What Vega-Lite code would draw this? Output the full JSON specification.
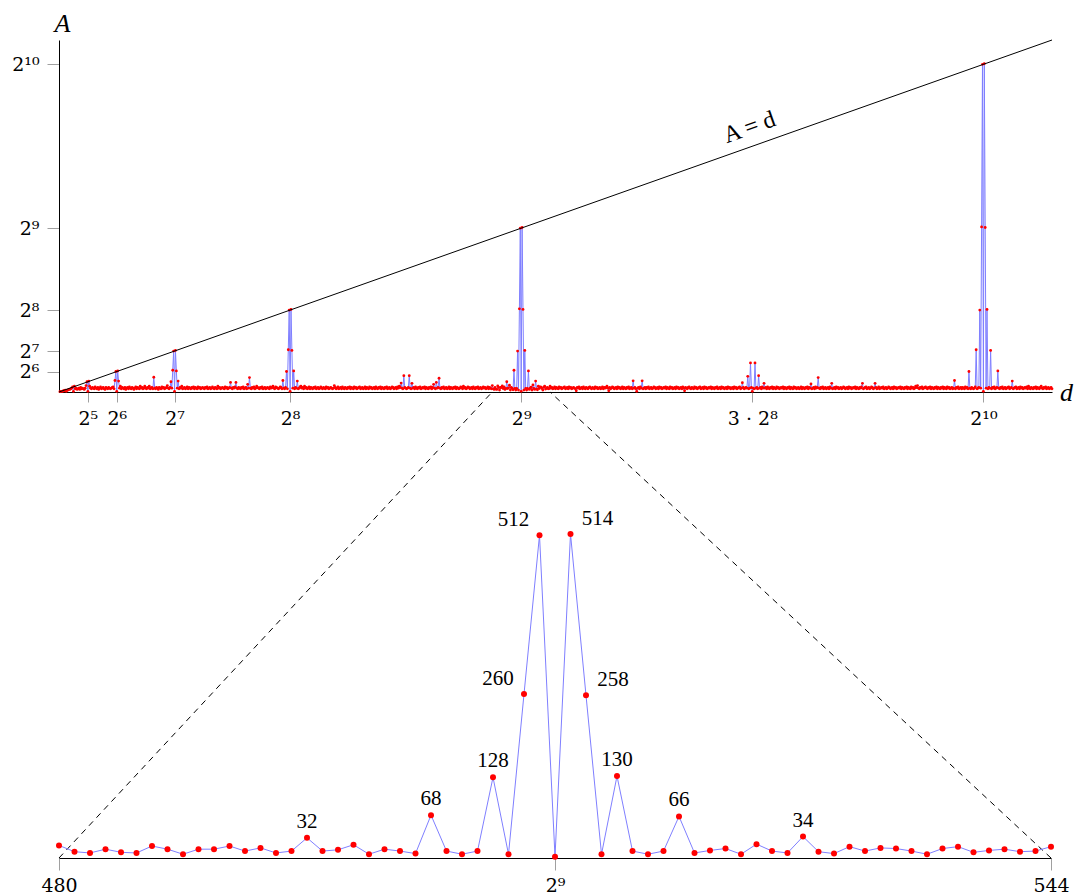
{
"$schema": "https://vega.github.io/schema/vega-lite/v6.json",
"background": "white",
"padding": {"left": 11, "top": 10, "right": 2, "bottom": 2},
"bounds": "flush",
"spacing": 113,
"config": {
  "view": {"stroke": null},
  "font": "Liberation Serif",
  "axis": {"grid": false, "domainColor": "black", "domainWidth": 1, "tickColor": "#a0a0a0", "tickWidth": 1, "labelFont": "DejaVu Serif", "labelColor": "black", "labelFontSize": 19, "titleFont": "DejaVu Serif", "titleFontWeight": "normal", "titleColor": "black"}
},
"datasets": {"series": [
{"d":1,"A":1},{"d":2,"A":2},{"d":3,"A":2},{"d":4,"A":2},{"d":5,"A":4},{"d":6,"A":4},{"d":7,"A":6},{"d":8,"A":2},{"d":9,"A":6},{"d":10,"A":6},
{"d":11,"A":8},{"d":12,"A":8},{"d":13,"A":10},{"d":14,"A":12},{"d":15,"A":16},{"d":16,"A":2},{"d":17,"A":18},{"d":18,"A":10},{"d":19,"A":12},{"d":20,"A":8},
{"d":21,"A":10},{"d":22,"A":12},{"d":23,"A":8},{"d":24,"A":14},{"d":25,"A":10},{"d":26,"A":12},{"d":27,"A":10},{"d":28,"A":8},{"d":29,"A":12},{"d":30,"A":20},
{"d":31,"A":32},{"d":32,"A":2},{"d":33,"A":34},{"d":34,"A":18},{"d":35,"A":12},{"d":36,"A":10},{"d":37,"A":14},{"d":38,"A":12},{"d":39,"A":10},{"d":40,"A":16},
{"d":41,"A":12},{"d":42,"A":10},{"d":43,"A":14},{"d":44,"A":8},{"d":45,"A":12},{"d":46,"A":16},{"d":47,"A":10},{"d":48,"A":12},{"d":49,"A":14},{"d":50,"A":10},
{"d":51,"A":8},{"d":52,"A":14},{"d":53,"A":12},{"d":54,"A":10},{"d":55,"A":14},{"d":56,"A":12},{"d":57,"A":10},{"d":58,"A":12},{"d":59,"A":14},{"d":60,"A":16},
{"d":61,"A":10},{"d":62,"A":36},{"d":63,"A":64},{"d":64,"A":2},{"d":65,"A":66},{"d":66,"A":34},{"d":67,"A":12},{"d":68,"A":18},{"d":69,"A":10},{"d":70,"A":14},
{"d":71,"A":12},{"d":72,"A":10},{"d":73,"A":14},{"d":74,"A":8},{"d":75,"A":12},{"d":76,"A":14},{"d":77,"A":10},{"d":78,"A":16},{"d":79,"A":12},{"d":80,"A":10},
{"d":81,"A":14},{"d":82,"A":12},{"d":83,"A":8},{"d":84,"A":12},{"d":85,"A":16},{"d":86,"A":10},{"d":87,"A":14},{"d":88,"A":12},{"d":89,"A":10},{"d":90,"A":18},
{"d":91,"A":12},{"d":92,"A":14},{"d":93,"A":10},{"d":94,"A":12},{"d":95,"A":18},{"d":96,"A":12},{"d":97,"A":10},{"d":98,"A":14},{"d":99,"A":12},{"d":100,"A":18},
{"d":101,"A":10},{"d":102,"A":12},{"d":103,"A":14},{"d":104,"A":10},{"d":105,"A":46},{"d":106,"A":12},{"d":107,"A":10},{"d":108,"A":14},{"d":109,"A":12},{"d":110,"A":8},
{"d":111,"A":14},{"d":112,"A":12},{"d":113,"A":10},{"d":114,"A":16},{"d":115,"A":12},{"d":116,"A":14},{"d":117,"A":10},{"d":118,"A":12},{"d":119,"A":14},{"d":120,"A":20},
{"d":121,"A":12},{"d":122,"A":10},{"d":123,"A":14},{"d":124,"A":32},{"d":125,"A":12},{"d":126,"A":68},{"d":127,"A":128},{"d":128,"A":2},{"d":129,"A":130},{"d":130,"A":66},
{"d":131,"A":12},{"d":132,"A":34},{"d":133,"A":10},{"d":134,"A":14},{"d":135,"A":12},{"d":136,"A":18},{"d":137,"A":10},{"d":138,"A":12},{"d":139,"A":14},{"d":140,"A":10},
{"d":141,"A":12},{"d":142,"A":16},{"d":143,"A":10},{"d":144,"A":14},{"d":145,"A":12},{"d":146,"A":10},{"d":147,"A":14},{"d":148,"A":12},{"d":149,"A":16},{"d":150,"A":10},
{"d":151,"A":14},{"d":152,"A":12},{"d":153,"A":10},{"d":154,"A":16},{"d":155,"A":12},{"d":156,"A":14},{"d":157,"A":10},{"d":158,"A":12},{"d":159,"A":14},{"d":160,"A":12},
{"d":161,"A":10},{"d":162,"A":14},{"d":163,"A":12},{"d":164,"A":16},{"d":165,"A":10},{"d":166,"A":12},{"d":167,"A":14},{"d":168,"A":10},{"d":169,"A":12},{"d":170,"A":16},
{"d":171,"A":12},{"d":172,"A":10},{"d":173,"A":14},{"d":174,"A":12},{"d":175,"A":10},{"d":176,"A":18},{"d":177,"A":12},{"d":178,"A":14},{"d":179,"A":10},{"d":180,"A":12},
{"d":181,"A":14},{"d":182,"A":12},{"d":183,"A":10},{"d":184,"A":16},{"d":185,"A":12},{"d":186,"A":14},{"d":187,"A":10},{"d":188,"A":12},{"d":189,"A":14},{"d":190,"A":30},
{"d":191,"A":12},{"d":192,"A":10},{"d":193,"A":14},{"d":194,"A":12},{"d":195,"A":16},{"d":196,"A":30},{"d":197,"A":12},{"d":198,"A":10},{"d":199,"A":14},{"d":200,"A":12},
{"d":201,"A":10},{"d":202,"A":14},{"d":203,"A":12},{"d":204,"A":16},{"d":205,"A":10},{"d":206,"A":12},{"d":207,"A":14},{"d":208,"A":10},{"d":209,"A":24},{"d":210,"A":12},
{"d":211,"A":45},{"d":212,"A":12},{"d":213,"A":10},{"d":214,"A":14},{"d":215,"A":12},{"d":216,"A":16},{"d":217,"A":10},{"d":218,"A":12},{"d":219,"A":18},{"d":220,"A":14},
{"d":221,"A":12},{"d":222,"A":10},{"d":223,"A":14},{"d":224,"A":12},{"d":225,"A":16},{"d":226,"A":10},{"d":227,"A":12},{"d":228,"A":14},{"d":229,"A":10},{"d":230,"A":12},
{"d":231,"A":14},{"d":232,"A":12},{"d":233,"A":10},{"d":234,"A":16},{"d":235,"A":12},{"d":236,"A":14},{"d":237,"A":18},{"d":238,"A":12},{"d":239,"A":10},{"d":240,"A":16},
{"d":241,"A":14},{"d":242,"A":12},{"d":243,"A":10},{"d":244,"A":12},{"d":245,"A":16},{"d":246,"A":14},{"d":247,"A":10},{"d":248,"A":36},{"d":249,"A":12},{"d":250,"A":10},
{"d":251,"A":14},{"d":252,"A":64},{"d":253,"A":10},{"d":254,"A":132},{"d":255,"A":256},{"d":256,"A":2},{"d":257,"A":258},{"d":258,"A":130},{"d":259,"A":12},{"d":260,"A":66},
{"d":261,"A":10},{"d":262,"A":14},{"d":263,"A":12},{"d":264,"A":34},{"d":265,"A":10},{"d":266,"A":12},{"d":267,"A":16},{"d":268,"A":18},{"d":269,"A":12},{"d":270,"A":14},
{"d":271,"A":10},{"d":272,"A":18},{"d":273,"A":12},{"d":274,"A":14},{"d":275,"A":10},{"d":276,"A":12},{"d":277,"A":16},{"d":278,"A":10},{"d":279,"A":14},{"d":280,"A":12},
{"d":281,"A":10},{"d":282,"A":14},{"d":283,"A":12},{"d":284,"A":16},{"d":285,"A":10},{"d":286,"A":12},{"d":287,"A":14},{"d":288,"A":10},{"d":289,"A":12},{"d":290,"A":16},
{"d":291,"A":12},{"d":292,"A":10},{"d":293,"A":14},{"d":294,"A":12},{"d":295,"A":10},{"d":296,"A":16},{"d":297,"A":12},{"d":298,"A":14},{"d":299,"A":10},{"d":300,"A":12},
{"d":301,"A":14},{"d":302,"A":12},{"d":303,"A":10},{"d":304,"A":12},{"d":305,"A":20},{"d":306,"A":14},{"d":307,"A":10},{"d":308,"A":12},{"d":309,"A":16},{"d":310,"A":10},
{"d":311,"A":12},{"d":312,"A":14},{"d":313,"A":10},{"d":314,"A":16},{"d":315,"A":12},{"d":316,"A":10},{"d":317,"A":14},{"d":318,"A":12},{"d":319,"A":10},{"d":320,"A":14},
{"d":321,"A":12},{"d":322,"A":16},{"d":323,"A":10},{"d":324,"A":14},{"d":325,"A":12},{"d":326,"A":10},{"d":327,"A":16},{"d":328,"A":12},{"d":329,"A":14},{"d":330,"A":10},
{"d":331,"A":12},{"d":332,"A":14},{"d":333,"A":16},{"d":334,"A":10},{"d":335,"A":12},{"d":336,"A":14},{"d":337,"A":10},{"d":338,"A":12},{"d":339,"A":16},{"d":340,"A":10},
{"d":341,"A":14},{"d":342,"A":12},{"d":343,"A":10},{"d":344,"A":16},{"d":345,"A":12},{"d":346,"A":14},{"d":347,"A":10},{"d":348,"A":12},{"d":349,"A":14},{"d":350,"A":10},
{"d":351,"A":16},{"d":352,"A":12},{"d":353,"A":10},{"d":354,"A":14},{"d":355,"A":12},{"d":356,"A":16},{"d":357,"A":10},{"d":358,"A":14},{"d":359,"A":12},{"d":360,"A":10},
{"d":361,"A":14},{"d":362,"A":12},{"d":363,"A":16},{"d":364,"A":10},{"d":365,"A":12},{"d":366,"A":14},{"d":367,"A":10},{"d":368,"A":12},{"d":369,"A":16},{"d":370,"A":14},
{"d":371,"A":10},{"d":372,"A":12},{"d":373,"A":14},{"d":374,"A":10},{"d":375,"A":16},{"d":376,"A":12},{"d":377,"A":18},{"d":378,"A":14},{"d":379,"A":28},{"d":380,"A":12},
{"d":381,"A":10},{"d":382,"A":51},{"d":383,"A":14},{"d":384,"A":12},{"d":385,"A":10},{"d":386,"A":12},{"d":387,"A":14},{"d":388,"A":51},{"d":389,"A":12},{"d":390,"A":10},
{"d":391,"A":27},{"d":392,"A":12},{"d":393,"A":14},{"d":394,"A":10},{"d":395,"A":16},{"d":396,"A":12},{"d":397,"A":10},{"d":398,"A":14},{"d":399,"A":12},{"d":400,"A":16},
{"d":401,"A":10},{"d":402,"A":12},{"d":403,"A":14},{"d":404,"A":12},{"d":405,"A":16},{"d":406,"A":10},{"d":407,"A":14},{"d":408,"A":12},{"d":409,"A":10},{"d":410,"A":14},
{"d":411,"A":12},{"d":412,"A":16},{"d":413,"A":10},{"d":414,"A":14},{"d":415,"A":24},{"d":416,"A":12},{"d":417,"A":10},{"d":418,"A":30},{"d":419,"A":12},{"d":420,"A":14},
{"d":421,"A":43},{"d":422,"A":12},{"d":423,"A":10},{"d":424,"A":14},{"d":425,"A":12},{"d":426,"A":16},{"d":427,"A":10},{"d":428,"A":12},{"d":429,"A":14},{"d":430,"A":10},
{"d":431,"A":12},{"d":432,"A":16},{"d":433,"A":10},{"d":434,"A":14},{"d":435,"A":12},{"d":436,"A":10},{"d":437,"A":14},{"d":438,"A":12},{"d":439,"A":16},{"d":440,"A":10},
{"d":441,"A":14},{"d":442,"A":12},{"d":443,"A":10},{"d":444,"A":12},{"d":445,"A":16},{"d":446,"A":14},{"d":447,"A":10},{"d":448,"A":18},{"d":449,"A":12},{"d":450,"A":14},
{"d":451,"A":10},{"d":452,"A":12},{"d":453,"A":16},{"d":454,"A":14},{"d":455,"A":10},{"d":456,"A":12},{"d":457,"A":14},{"d":458,"A":10},{"d":459,"A":16},{"d":460,"A":12},
{"d":461,"A":10},{"d":462,"A":14},{"d":463,"A":12},{"d":464,"A":16},{"d":465,"A":10},{"d":466,"A":12},{"d":467,"A":14},{"d":468,"A":10},{"d":469,"A":12},{"d":470,"A":16},
{"d":471,"A":12},{"d":472,"A":14},{"d":473,"A":10},{"d":474,"A":12},{"d":475,"A":16},{"d":476,"A":10},{"d":477,"A":14},{"d":478,"A":12},{"d":479,"A":10},{"d":480,"A":20},
{"d":481,"A":10},{"d":482,"A":8},{"d":483,"A":14},{"d":484,"A":9},{"d":485,"A":8},{"d":486,"A":19},{"d":487,"A":14},{"d":488,"A":6},{"d":489,"A":14},{"d":490,"A":14},
{"d":491,"A":19},{"d":492,"A":11},{"d":493,"A":16},{"d":494,"A":8},{"d":495,"A":11},{"d":496,"A":32},{"d":497,"A":11},{"d":498,"A":13},{"d":499,"A":21},{"d":500,"A":6},
{"d":501,"A":14},{"d":502,"A":11},{"d":503,"A":7},{"d":504,"A":68},{"d":505,"A":11},{"d":506,"A":6},{"d":507,"A":11},{"d":508,"A":128},{"d":509,"A":6},{"d":510,"A":260},
{"d":511,"A":512},{"d":512,"A":2},{"d":513,"A":514},{"d":514,"A":258},{"d":515,"A":6},{"d":516,"A":130},{"d":517,"A":11},{"d":518,"A":6},{"d":519,"A":11},{"d":520,"A":66},
{"d":521,"A":8},{"d":522,"A":12},{"d":523,"A":15},{"d":524,"A":6},{"d":525,"A":22},{"d":526,"A":11},{"d":527,"A":8},{"d":528,"A":34},{"d":529,"A":10},{"d":530,"A":7},
{"d":531,"A":18},{"d":532,"A":11},{"d":533,"A":16},{"d":534,"A":15},{"d":535,"A":11},{"d":536,"A":6},{"d":537,"A":15},{"d":538,"A":18},{"d":539,"A":9},{"d":540,"A":12},
{"d":541,"A":14},{"d":542,"A":10},{"d":543,"A":11},{"d":544,"A":18},{"d":545,"A":12},{"d":546,"A":14},{"d":547,"A":10},{"d":548,"A":12},{"d":549,"A":16},{"d":550,"A":10},
{"d":551,"A":14},{"d":552,"A":12},{"d":553,"A":10},{"d":554,"A":16},{"d":555,"A":12},{"d":556,"A":14},{"d":557,"A":10},{"d":558,"A":12},{"d":559,"A":14},{"d":560,"A":16},
{"d":561,"A":10},{"d":562,"A":12},{"d":563,"A":14},{"d":564,"A":10},{"d":565,"A":16},{"d":566,"A":12},{"d":567,"A":14},{"d":568,"A":10},{"d":569,"A":12},{"d":570,"A":14},
{"d":571,"A":12},{"d":572,"A":10},{"d":573,"A":4},{"d":574,"A":14},{"d":575,"A":12},{"d":576,"A":16},{"d":577,"A":10},{"d":578,"A":12},{"d":579,"A":14},{"d":580,"A":10},
{"d":581,"A":16},{"d":582,"A":12},{"d":583,"A":10},{"d":584,"A":14},{"d":585,"A":12},{"d":586,"A":10},{"d":587,"A":14},{"d":588,"A":16},{"d":589,"A":12},{"d":590,"A":10},
{"d":591,"A":14},{"d":592,"A":12},{"d":593,"A":10},{"d":594,"A":16},{"d":595,"A":12},{"d":596,"A":14},{"d":597,"A":10},{"d":598,"A":12},{"d":599,"A":14},{"d":600,"A":10},
{"d":601,"A":12},{"d":602,"A":16},{"d":603,"A":10},{"d":604,"A":14},{"d":605,"A":12},{"d":606,"A":14},{"d":607,"A":18},{"d":608,"A":12},{"d":609,"A":4},{"d":610,"A":14},
{"d":611,"A":10},{"d":612,"A":12},{"d":613,"A":16},{"d":614,"A":14},{"d":615,"A":10},{"d":616,"A":12},{"d":617,"A":14},{"d":618,"A":10},{"d":619,"A":16},{"d":620,"A":12},
{"d":621,"A":14},{"d":622,"A":10},{"d":623,"A":12},{"d":624,"A":16},{"d":625,"A":10},{"d":626,"A":14},{"d":627,"A":12},{"d":628,"A":10},{"d":629,"A":14},{"d":630,"A":12},
{"d":631,"A":16},{"d":632,"A":10},{"d":633,"A":12},{"d":634,"A":14},{"d":635,"A":10},{"d":636,"A":35},{"d":637,"A":12},{"d":638,"A":14},{"d":639,"A":10},{"d":640,"A":2},
{"d":641,"A":12},{"d":642,"A":14},{"d":643,"A":10},{"d":644,"A":16},{"d":645,"A":12},{"d":646,"A":35},{"d":647,"A":10},{"d":648,"A":12},{"d":649,"A":14},{"d":650,"A":10},
{"d":651,"A":14},{"d":652,"A":12},{"d":653,"A":16},{"d":654,"A":10},{"d":655,"A":12},{"d":656,"A":14},{"d":657,"A":10},{"d":658,"A":12},{"d":659,"A":16},{"d":660,"A":14},
{"d":661,"A":10},{"d":662,"A":12},{"d":663,"A":14},{"d":664,"A":10},{"d":665,"A":16},{"d":666,"A":12},{"d":667,"A":14},{"d":668,"A":10},{"d":669,"A":12},{"d":670,"A":14},
{"d":671,"A":12},{"d":672,"A":16},{"d":673,"A":10},{"d":674,"A":14},{"d":675,"A":12},{"d":676,"A":10},{"d":677,"A":16},{"d":678,"A":12},{"d":679,"A":14},{"d":680,"A":10},
{"d":681,"A":12},{"d":682,"A":14},{"d":683,"A":10},{"d":684,"A":16},{"d":685,"A":12},{"d":686,"A":14},{"d":687,"A":10},{"d":688,"A":12},{"d":689,"A":14},{"d":690,"A":10},
{"d":691,"A":16},{"d":692,"A":12},{"d":693,"A":4},{"d":694,"A":14},{"d":695,"A":12},{"d":696,"A":10},{"d":697,"A":14},{"d":698,"A":16},{"d":699,"A":12},{"d":700,"A":10},
{"d":701,"A":14},{"d":702,"A":12},{"d":703,"A":10},{"d":704,"A":16},{"d":705,"A":12},{"d":706,"A":14},{"d":707,"A":10},{"d":708,"A":12},{"d":709,"A":14},{"d":710,"A":16},
{"d":711,"A":10},{"d":712,"A":12},{"d":713,"A":14},{"d":714,"A":10},{"d":715,"A":16},{"d":716,"A":12},{"d":717,"A":14},{"d":718,"A":10},{"d":719,"A":12},{"d":720,"A":14},
{"d":721,"A":12},{"d":722,"A":16},{"d":723,"A":10},{"d":724,"A":14},{"d":725,"A":12},{"d":726,"A":10},{"d":727,"A":14},{"d":728,"A":12},{"d":729,"A":16},{"d":730,"A":10},
{"d":731,"A":12},{"d":732,"A":14},{"d":733,"A":10},{"d":734,"A":16},{"d":735,"A":12},{"d":736,"A":14},{"d":737,"A":10},{"d":738,"A":12},{"d":739,"A":14},{"d":740,"A":10},
{"d":741,"A":16},{"d":742,"A":12},{"d":743,"A":14},{"d":744,"A":10},{"d":745,"A":12},{"d":746,"A":14},{"d":747,"A":10},{"d":748,"A":16},{"d":749,"A":12},{"d":750,"A":14},
{"d":751,"A":10},{"d":752,"A":12},{"d":753,"A":14},{"d":754,"A":16},{"d":755,"A":10},{"d":756,"A":12},{"d":757,"A":29},{"d":758,"A":14},{"d":759,"A":10},{"d":760,"A":12},
{"d":761,"A":14},{"d":762,"A":12},{"d":763,"A":49},{"d":764,"A":10},{"d":765,"A":12},{"d":766,"A":91},{"d":767,"A":14},{"d":768,"A":2},{"d":769,"A":12},{"d":770,"A":10},
{"d":771,"A":91},{"d":772,"A":12},{"d":773,"A":14},{"d":774,"A":10},{"d":775,"A":51},{"d":776,"A":12},{"d":777,"A":14},{"d":778,"A":10},{"d":779,"A":16},{"d":780,"A":12},
{"d":781,"A":27},{"d":782,"A":12},{"d":783,"A":14},{"d":784,"A":10},{"d":785,"A":16},{"d":786,"A":12},{"d":787,"A":10},{"d":788,"A":14},{"d":789,"A":12},{"d":790,"A":16},
{"d":791,"A":10},{"d":792,"A":14},{"d":793,"A":12},{"d":794,"A":10},{"d":795,"A":16},{"d":796,"A":12},{"d":797,"A":14},{"d":798,"A":10},{"d":799,"A":12},{"d":800,"A":14},
{"d":801,"A":12},{"d":802,"A":16},{"d":803,"A":10},{"d":804,"A":14},{"d":805,"A":12},{"d":806,"A":10},{"d":807,"A":14},{"d":808,"A":12},{"d":809,"A":16},{"d":810,"A":10},
{"d":811,"A":14},{"d":812,"A":12},{"d":813,"A":10},{"d":814,"A":16},{"d":815,"A":12},{"d":816,"A":14},{"d":817,"A":10},{"d":818,"A":12},{"d":819,"A":14},{"d":820,"A":10},
{"d":821,"A":12},{"d":822,"A":16},{"d":823,"A":10},{"d":824,"A":14},{"d":825,"A":12},{"d":826,"A":10},{"d":827,"A":14},{"d":828,"A":12},{"d":829,"A":16},{"d":830,"A":10},
{"d":831,"A":14},{"d":832,"A":12},{"d":833,"A":25},{"d":834,"A":10},{"d":835,"A":12},{"d":836,"A":14},{"d":837,"A":10},{"d":838,"A":16},{"d":839,"A":12},{"d":840,"A":14},
{"d":841,"A":45},{"d":842,"A":12},{"d":843,"A":10},{"d":844,"A":14},{"d":845,"A":12},{"d":846,"A":16},{"d":847,"A":10},{"d":848,"A":12},{"d":849,"A":14},{"d":850,"A":10},
{"d":851,"A":12},{"d":852,"A":14},{"d":853,"A":10},{"d":854,"A":16},{"d":855,"A":12},{"d":856,"A":27},{"d":857,"A":10},{"d":858,"A":12},{"d":859,"A":14},{"d":860,"A":10},
{"d":861,"A":16},{"d":862,"A":12},{"d":863,"A":14},{"d":864,"A":10},{"d":865,"A":12},{"d":866,"A":14},{"d":867,"A":10},{"d":868,"A":12},{"d":869,"A":16},{"d":870,"A":14},
{"d":871,"A":10},{"d":872,"A":12},{"d":873,"A":14},{"d":874,"A":10},{"d":875,"A":16},{"d":876,"A":12},{"d":877,"A":14},{"d":878,"A":10},{"d":879,"A":12},{"d":880,"A":14},
{"d":881,"A":12},{"d":882,"A":16},{"d":883,"A":10},{"d":884,"A":14},{"d":885,"A":12},{"d":886,"A":10},{"d":887,"A":14},{"d":888,"A":12},{"d":889,"A":16},{"d":890,"A":27},
{"d":891,"A":10},{"d":892,"A":12},{"d":893,"A":14},{"d":894,"A":16},{"d":895,"A":10},{"d":896,"A":12},{"d":897,"A":14},{"d":898,"A":10},{"d":899,"A":12},{"d":900,"A":16},
{"d":901,"A":14},{"d":902,"A":10},{"d":903,"A":12},{"d":904,"A":27},{"d":905,"A":14},{"d":906,"A":10},{"d":907,"A":12},{"d":908,"A":16},{"d":909,"A":10},{"d":910,"A":12},
{"d":911,"A":14},{"d":912,"A":12},{"d":913,"A":16},{"d":914,"A":10},{"d":915,"A":12},{"d":916,"A":14},{"d":917,"A":10},{"d":918,"A":12},{"d":919,"A":16},{"d":920,"A":14},
{"d":921,"A":10},{"d":922,"A":12},{"d":923,"A":14},{"d":924,"A":10},{"d":925,"A":16},{"d":926,"A":12},{"d":927,"A":14},{"d":928,"A":10},{"d":929,"A":12},{"d":930,"A":14},
{"d":931,"A":12},{"d":932,"A":16},{"d":933,"A":10},{"d":934,"A":14},{"d":935,"A":12},{"d":936,"A":10},{"d":937,"A":14},{"d":938,"A":12},{"d":939,"A":16},{"d":940,"A":10},
{"d":941,"A":14},{"d":942,"A":12},{"d":943,"A":10},{"d":944,"A":16},{"d":945,"A":12},{"d":946,"A":14},{"d":947,"A":10},{"d":948,"A":12},{"d":949,"A":18},{"d":950,"A":14},
{"d":951,"A":20},{"d":952,"A":12},{"d":953,"A":10},{"d":954,"A":14},{"d":955,"A":12},{"d":956,"A":16},{"d":957,"A":10},{"d":958,"A":12},{"d":959,"A":14},{"d":960,"A":16},
{"d":961,"A":12},{"d":962,"A":10},{"d":963,"A":14},{"d":964,"A":12},{"d":965,"A":16},{"d":966,"A":10},{"d":967,"A":14},{"d":968,"A":12},{"d":969,"A":10},{"d":970,"A":14},
{"d":971,"A":12},{"d":972,"A":16},{"d":973,"A":10},{"d":974,"A":14},{"d":975,"A":12},{"d":976,"A":10},{"d":977,"A":14},{"d":978,"A":12},{"d":979,"A":16},{"d":980,"A":10},
{"d":981,"A":14},{"d":982,"A":12},{"d":983,"A":10},{"d":984,"A":16},{"d":985,"A":12},{"d":986,"A":14},{"d":987,"A":10},{"d":988,"A":12},{"d":989,"A":14},{"d":990,"A":10},
{"d":991,"A":12},{"d":992,"A":36},{"d":993,"A":10},{"d":994,"A":14},{"d":995,"A":12},{"d":996,"A":16},{"d":997,"A":10},{"d":998,"A":12},{"d":999,"A":14},{"d":1000,"A":10},
{"d":1001,"A":14},{"d":1002,"A":12},{"d":1003,"A":10},{"d":1004,"A":16},{"d":1005,"A":12},{"d":1006,"A":14},{"d":1007,"A":10},{"d":1008,"A":64},{"d":1009,"A":12},{"d":1010,"A":10},
{"d":1011,"A":14},{"d":1012,"A":12},{"d":1013,"A":10},{"d":1014,"A":12},{"d":1015,"A":16},{"d":1016,"A":132},{"d":1017,"A":10},{"d":1018,"A":12},{"d":1019,"A":14},{"d":1020,"A":256},
{"d":1021,"A":12},{"d":1022,"A":516},{"d":1023,"A":1024},{"d":1024,"A":2},{"d":1025,"A":1026},{"d":1026,"A":514},{"d":1027,"A":12},{"d":1028,"A":258},{"d":1029,"A":10},{"d":1030,"A":14},
{"d":1031,"A":12},{"d":1032,"A":130},{"d":1033,"A":10},{"d":1034,"A":14},{"d":1035,"A":12},{"d":1036,"A":16},{"d":1037,"A":10},{"d":1038,"A":12},{"d":1039,"A":14},{"d":1040,"A":66},
{"d":1041,"A":12},{"d":1042,"A":10},{"d":1043,"A":14},{"d":1044,"A":12},{"d":1045,"A":16},{"d":1046,"A":10},{"d":1047,"A":12},{"d":1048,"A":14},{"d":1049,"A":10},{"d":1050,"A":12},
{"d":1051,"A":14},{"d":1052,"A":16},{"d":1053,"A":10},{"d":1054,"A":12},{"d":1055,"A":14},{"d":1056,"A":34},{"d":1057,"A":10},{"d":1058,"A":12},{"d":1059,"A":14},{"d":1060,"A":16},
{"d":1061,"A":10},{"d":1062,"A":12},{"d":1063,"A":14},{"d":1064,"A":10},{"d":1065,"A":16},{"d":1066,"A":12},{"d":1067,"A":14},{"d":1068,"A":10},{"d":1069,"A":12},{"d":1070,"A":14},
{"d":1071,"A":12},{"d":1072,"A":16},{"d":1073,"A":10},{"d":1074,"A":18},{"d":1075,"A":12},{"d":1076,"A":10},{"d":1077,"A":14},{"d":1078,"A":12},{"d":1079,"A":10},{"d":1080,"A":14},
{"d":1081,"A":12},{"d":1082,"A":16},{"d":1083,"A":10},{"d":1084,"A":14},{"d":1085,"A":12},{"d":1086,"A":10},{"d":1087,"A":14},{"d":1088,"A":18},{"d":1089,"A":12},{"d":1090,"A":10},
{"d":1091,"A":14},{"d":1092,"A":12},{"d":1093,"A":16},{"d":1094,"A":10},{"d":1095,"A":12},{"d":1096,"A":14},{"d":1097,"A":10},{"d":1098,"A":12},{"d":1099,"A":14},{"d":1100,"A":10}
]},
"vconcat": [
  {
    "width": 993,
    "height": 352,
    "encoding": {
      "x": {"field": "d", "type": "quantitative", "scale": {"domain": [0, 1100], "nice": false, "zero": false},
        "axis": {"values": [32, 64, 128, 256, 512, 768, 1024],
          "labelExpr": "datum.value == 32 ? '2⁵' : datum.value == 64 ? '2⁶' : datum.value == 128 ? '2⁷' : datum.value == 256 ? '2⁸' : datum.value == 512 ? '2⁹' : datum.value == 768 ? '3 · 2⁸' : '2¹⁰'",
          "tickSize": 10, "labelPadding": 7, "labelFlush": false, "labelOverlap": false,
          "title": "d", "titleFont": "Liberation Serif", "titleFontStyle": "italic", "titleFontSize": 26, "titleAngle": 0, "titleX": 1007, "titleY": 0, "titleAlign": "center", "titleBaseline": "middle"}},
      "y": {"field": "A", "type": "quantitative", "scale": {"domain": [0, 1100], "nice": false},
        "axis": {"values": [64, 128, 256, 512, 1024],
          "labelExpr": "datum.value == 64 ? '2⁶' : datum.value == 128 ? '2⁷' : datum.value == 256 ? '2⁸' : datum.value == 512 ? '2⁹' : '2¹⁰'",
          "tickSize": 12, "labelPadding": 8, "labelFlush": false, "labelOverlap": false,
          "title": "A", "titleFont": "Liberation Serif", "titleFontStyle": "italic", "titleFontSize": 26, "titleAngle": 0, "titleX": 3, "titleY": -17, "titleAlign": "center", "titleBaseline": "middle"}}
    },
    "layer": [
      {"data": {"name": "series"}, "mark": {"type": "line", "stroke": "#7f7fff", "strokeWidth": 1}, "encoding": {}},
      {"data": {"name": "series"}, "mark": {"type": "circle", "color": "#ff0000", "size": 8, "opacity": 1}, "encoding": {}},
      {"data": {"values": [{"d": 0, "A": 0}, {"d": 1100, "A": 1100}]}, "mark": {"type": "line", "stroke": "black", "strokeWidth": 1}, "encoding": {}},
      {"data": {"values": [{"d": 765, "A": 826, "label": "A = d"}]}, "mark": {"type": "text", "angle": -19.5, "fontSize": 24, "font": "Liberation Serif", "color": "black"}, "encoding": {"text": {"field": "label"}}}
    ]
  },
  {
    "width": 992,
    "height": 353,
    "encoding": {
      "x": {"field": "d", "type": "quantitative", "scale": {"domain": [480, 544], "nice": false, "zero": false},
        "axis": {"values": [480, 512, 544], "labelExpr": "datum.value == 512 ? '2⁹' : datum.label", "tickSize": 12, "labelPadding": 6, "labelFlush": false, "title": null}},
      "y": {"field": "A", "type": "quantitative", "scale": {"domain": [0, 560], "nice": false}, "axis": null}
    },
    "layer": [
      {"data": {"values": [{"d": 480, "A": 0, "d2": 507.95, "A2": 739.3}, {"d": 544, "A": 0, "d2": 511.68, "A2": 739.3}]},
       "mark": {"type": "rule", "color": "black", "strokeWidth": 1, "strokeDash": [6, 5]},
       "encoding": {"x2": {"field": "d2"}, "y2": {"field": "A2"}}},
      {"data": {"name": "series"}, "transform": [{"filter": "datum.d >= 480 && datum.d <= 544"}], "mark": {"type": "line", "stroke": "#7f7fff", "strokeWidth": 1}, "encoding": {}},
      {"data": {"name": "series"}, "transform": [{"filter": "datum.d >= 480 && datum.d <= 544"}], "mark": {"type": "circle", "color": "#ff0000", "size": 36, "opacity": 1}, "encoding": {}},
      {"data": {"name": "series"}, "transform": [{"filter": {"field": "d", "oneOf": [496, 504, 508, 516, 520, 528]}}], "mark": {"type": "text", "fontSize": 21, "dy": -16, "color": "black"}, "encoding": {"text": {"field": "A", "type": "quantitative"}}},
      {"data": {"name": "series"}, "transform": [{"filter": {"field": "d", "oneOf": [510, 511]}}], "mark": {"type": "text", "fontSize": 21, "dx": -26, "dy": -15, "color": "black"}, "encoding": {"text": {"field": "A", "type": "quantitative"}}},
      {"data": {"name": "series"}, "transform": [{"filter": {"field": "d", "oneOf": [513, 514]}}], "mark": {"type": "text", "fontSize": 21, "dx": 27, "dy": -15, "color": "black"}, "encoding": {"text": {"field": "A", "type": "quantitative"}}}
    ]
  }
]
}
